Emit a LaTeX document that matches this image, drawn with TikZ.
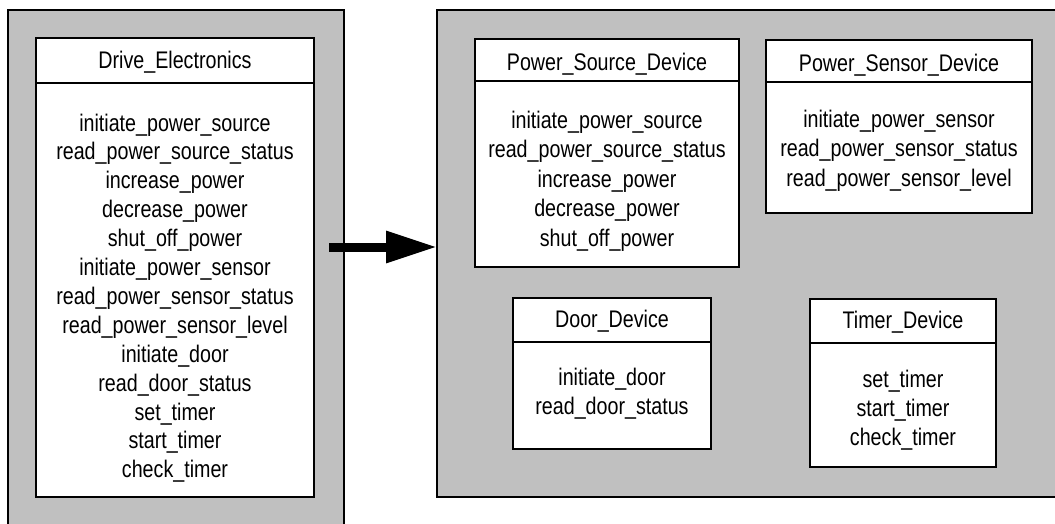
\documentclass[tikz,border=0pt]{standalone}
\usepackage{fontspec}
\setmainfont{Liberation Sans}[FakeStretch=0.82]
\usetikzlibrary{arrows.meta}
\definecolor{panelgray}{RGB}{192,192,192}
\begin{document}
\begin{tikzpicture}[x=1pt,y=-1pt,
  panel/.style={draw=black, line width=2.2pt, fill=panelgray, anchor=north west, inner sep=0pt, outer sep=0pt},
  classbox/.style={draw=black, line width=2.6pt, fill=white, anchor=north west, inner sep=0pt, outer sep=0pt},
  divider/.style={draw=black, line width=2.6pt},
  txt/.style={font=\fontsize{24}{29}\selectfont, inner sep=0pt, anchor=base},
  bigarrow/.style={draw=black, line width=9pt, -{Triangle[length=51pt,width=30pt]}}]
\useasboundingbox (0,0) rectangle (1055,523);
\clip (0,0) rectangle (1055,523);

% panels
\node[panel, minimum width=336pt, minimum height=540pt] (leftpanel) at (8,10) {};
\node[panel, minimum width=640pt, minimum height=487pt] (rightpanel) at (437,10) {};

% arrow
\coordinate (arrowstart) at (329,247);
\draw[bigarrow] (arrowstart) -- (arrowstart -| rightpanel.west);

% Drive_Electronics
\node[classbox, minimum width=278pt, minimum height=459pt] (drive) at (36,38) {};
\draw[divider] ([yshift=-45pt]drive.north west) -- ([yshift=-45pt]drive.north east);
\node[txt] (drivetitle) at (175,68.5) {Drive\_Electronics};
\foreach \t [count=\i] in {initiate\_power\_source, read\_power\_source\_status, increase\_power, decrease\_power, shut\_off\_power, initiate\_power\_sensor, read\_power\_sensor\_status, read\_power\_sensor\_level, initiate\_door, read\_door\_status, set\_timer, start\_timer, check\_timer}
  \node[txt] (drive-item\i) at (175,{131+(\i-1)*28.9}) {\t};

% Power_Source_Device
\node[classbox, minimum width=264pt, minimum height=228pt] (psrc) at (475,39) {};
\draw[divider] ([yshift=-42pt]psrc.north west) -- ([yshift=-42pt]psrc.north east);
\node[txt] (psrctitle) at (607,70) {Power\_Source\_Device};
\foreach \t [count=\i] in {initiate\_power\_source, read\_power\_source\_status, increase\_power, decrease\_power, shut\_off\_power}
  \node[txt] (psrc-item\i) at (607,{128+(\i-1)*29.5}) {\t};

% Power_Sensor_Device
\node[classbox, minimum width=266pt, minimum height=173pt] (psen) at (766,40) {};
\draw[divider] ([yshift=-42pt]psen.north west) -- ([yshift=-42pt]psen.north east);
\node[txt] (psentitle) at (899,71) {Power\_Sensor\_Device};
\foreach \t [count=\i] in {initiate\_power\_sensor, read\_power\_sensor\_status, read\_power\_sensor\_level}
  \node[txt] (psen-item\i) at (899,{127+(\i-1)*29.5}) {\t};

% Door_Device
\node[classbox, minimum width=198pt, minimum height=151pt] (door) at (513,298) {};
\draw[divider] ([yshift=-44pt]door.north west) -- ([yshift=-44pt]door.north east);
\node[txt] (doortitle) at (612,327) {Door\_Device};
\foreach \t [count=\i] in {initiate\_door, read\_door\_status}
  \node[txt] (door-item\i) at (612,{385+(\i-1)*29.2}) {\t};

% Timer_Device
\node[classbox, minimum width=186pt, minimum height=168pt] (timer) at (810,299) {};
\draw[divider] ([yshift=-44pt]timer.north west) -- ([yshift=-44pt]timer.north east);
\node[txt] (timertitle) at (903,328) {Timer\_Device};
\foreach \t [count=\i] in {set\_timer, start\_timer, check\_timer}
  \node[txt] (timer-item\i) at (903,{387+(\i-1)*29.2}) {\t};
\end{tikzpicture}
\end{document}
